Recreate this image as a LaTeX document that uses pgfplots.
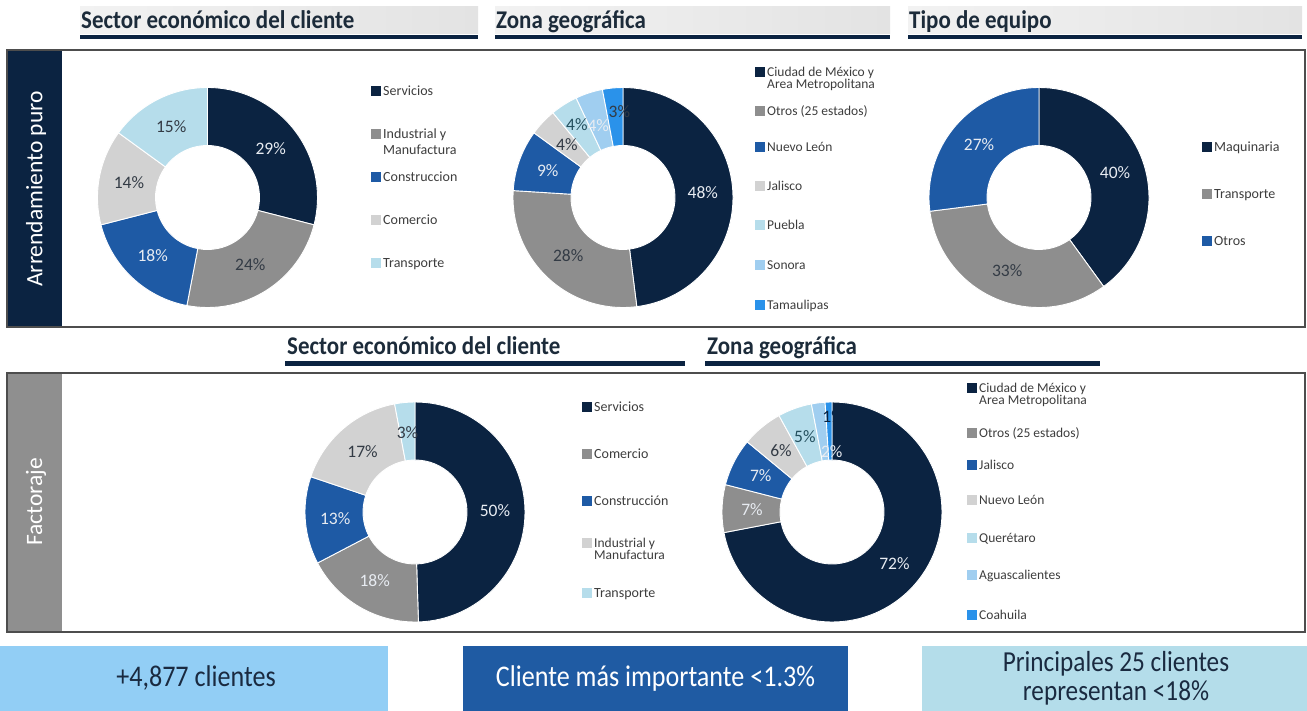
\documentclass[border=0pt]{standalone}
\usepackage{pgfplots}
\pgfplotsset{compat=1.18}
\usepackage{pgfplotstable}
\usepackage{fontspec}
\setmainfont{Carlito}
\newfontfamily\headff{Carlito}[FakeStretch=0.9]
\newfontfamily\boxff{Carlito}[FakeStretch=0.87]

% slice colours cs1..cs7, label colours ct1..ct4
\definecolor{cs1}{HTML}{0B2341}
\definecolor{cs2}{HTML}{8E8E8E}
\definecolor{cs3}{HTML}{1E5AA5}
\definecolor{cs4}{HTML}{D2D2D2}
\definecolor{cs5}{HTML}{B6DDEB}
\definecolor{cs6}{HTML}{A0CEF0}
\definecolor{cs7}{HTML}{2A92EA}
\definecolor{ct1}{HTML}{E8ECF2}
\definecolor{ct2}{HTML}{333B45}
\definecolor{ct3}{HTML}{24505E}
\definecolor{ct4}{HTML}{0B2341}
\colorlet{cNavy}{cs1}
\colorlet{cGray}{cs2}
\colorlet{cBlue}{cs3}
\colorlet{cLGray}{cs4}
\colorlet{cPale}{cs5}
\colorlet{cSky}{cs6}
\colorlet{cBright}{cs7}
\definecolor{cTxt}{HTML}{3D3D3D}
\definecolor{cHead}{HTML}{1C2B3A}
\definecolor{cFrame}{HTML}{4D4D4D}
\definecolor{cBar}{HTML}{8F8F8F}
\definecolor{cBox1}{HTML}{92CEF5}
\definecolor{cBox2}{HTML}{1F5BA3}
\definecolor{cBox3}{HTML}{B4DDEA}
\definecolor{cHL}{HTML}{F2F2F2}
\definecolor{cHR}{HTML}{E3E3E3}
\definecolor{cDark}{HTML}{1A2A40}

\newcommand\headfont{\headff\fontsize{25.5}{28}\selectfont\bfseries}
\newcommand\legfont{\fontsize{14}{16}\selectfont}
\newcommand\leggfont{\fontsize{13.5}{14}\selectfont}
\newcommand\labfont{\fontsize{17.5}{20}\selectfont}
\newcommand\sidefont{\fontsize{23.5}{26}\selectfont}
\newcommand\boxfont{\boxff\fontsize{30}{30}\selectfont}
\newcommand\boxfontb{\boxff\fontsize{29}{29}\selectfont}

\pgfdeclareplotmark{blank}{}

% ---- data: v = percent, c = slice colour no., t = label colour no.,
%      lr = label radius (pt), ao = label angle shift (deg)
\pgfplotstableread{
v  c t lr ao
29 1 1 80 0
24 2 2 80 0
18 3 1 80 0
14 4 2 80 0
15 5 2 80 0
}\tabA
\pgfplotstableread{
v  c t lr ao
48 1 1 80 0
28 2 2 80 0
9  3 1 80 0
4  4 2 77 0
4  5 3 86 0
4  6 1 76 1
3  7 2 86 -3
}\tabB
\pgfplotstableread{
v  c t lr ao
40 1 1 80 0
33 2 2 80 0
27 3 1 80 0
}\tabC
\pgfplotstableread{
v  c t lr ao
50 1 1 80 0
18 2 1 80 0
13 3 1 80 0
17 4 2 80 0
3  5 2 80 0
}\tabD
\pgfplotstableread{
v  c t lr ao
72 1 1 81 0
7  2 1 80 0
7  3 1 80 0
6  4 2 80 0
5  5 3 80 0
2  6 1 60 -7
1  7 4 95 -2.5
}\tabE
\pgfplotstablecreatecol[create col/expr accum={\pgfmathaccuma+\thisrow{v}}{0}]{cum}{\tabA}
\pgfplotstablecreatecol[create col/expr accum={\pgfmathaccuma+\thisrow{v}}{0}]{cum}{\tabB}
\pgfplotstablecreatecol[create col/expr accum={\pgfmathaccuma+\thisrow{v}}{0}]{cum}{\tabC}
\pgfplotstablecreatecol[create col/expr accum={\pgfmathaccuma+\thisrow{v}}{0}]{cum}{\tabD}
\pgfplotstablecreatecol[create col/expr accum={\pgfmathaccuma+\thisrow{v}}{0}]{cum}{\tabE}

\pgfplotsset{
  donut/.style={hide axis, scale only axis, width=220pt, height=220pt,
    xmin=-1, xmax=1, ymin=-1, ymax=1, clip=false, anchor=center},
  ring/.style={scatter, only marks, mark=blank,
    point meta=\thisrow{v},
    visualization depends on={90-#1*(\thisrow{cum}-\thisrow{v}) \as \aS},
    visualization depends on={90-#1*\thisrow{cum} \as \aE},
    visualization depends on={\thisrow{c} \as \sc},
    scatter/@pre marker code/.code={%
      \pgfmathtruncatemacro\ci{\sc}%
      \filldraw[fill=cs\ci, draw=white, line width=0.9pt]
        (\aS:110pt) arc[start angle=\aS, end angle=\aE, radius=110pt]
        -- (\aE:52pt) arc[start angle=\aE, end angle=\aS, radius=52pt] -- cycle;},
    scatter/@post marker code/.code={}},
  ringlab/.style={scatter, only marks, mark=blank,
    point meta=\thisrow{v},
    visualization depends on={90-#1*(\thisrow{cum}-0.5*\thisrow{v})+\thisrow{ao} \as \aM},
    visualization depends on={\thisrow{v} \as \val},
    visualization depends on={\thisrow{lr} \as \lr},
    visualization depends on={\thisrow{t} \as \tc},
    scatter/@pre marker code/.code={%
      \pgfmathtruncatemacro\ti{\tc}%
      \node[text=ct\ti, inner sep=0pt, font=\labfont] at (\aM:\lr pt)
        {\pgfmathprintnumber[fixed,precision=0,assume math mode=true]{\val}\%};},
    scatter/@post marker code/.code={}},
}

\newcommand\leg[5]{% x y colour text font
  \fill[#3] (#1,#2-4.8) rectangle (#1+10,#2+4.8);
  \node[anchor=base west, inner sep=0pt, text=cTxt, font=#5] at (#1+12,#2+4.8) {#4};}
\newcommand\legtwo[7]{% x y colour line1 line2 gap font
  \fill[#3] (#1,#2-4.8) rectangle (#1+10,#2+4.8);
  \node[anchor=base west, inner sep=0pt, text=cTxt, font=#7] at (#1+12,#2+4.8) {#4};
  \node[anchor=base west, inner sep=0pt, text=cTxt, font=#7] at (#1+12,#2+4.8+#6) {#5};}

\begin{document}
\begin{tikzpicture}
\begin{scope}[x=1pt,y=-1pt]
  \path[use as bounding box] (0,0) rectangle (1307,711);
  % top headers
  \foreach \a/\b/\txt in {80/478/{Sector económico del cliente},495/890/{Zona geográfica},908/1302/{Tipo de equipo}}{
    \shade[left color=cHL, right color=cHR] (\a,7) rectangle (\b,34);
    \fill[cNavy] (\a,35) rectangle (\b,39.5);
    \node[anchor=base west, inner sep=0pt, text=cHead, font=\headfont] at (\a+1,28.5) {\txt};
  }
  % top panel
  \fill[cNavy] (7,50) rectangle (62,327);
  \draw[cFrame, line width=1.5pt] (7,50) rectangle (1305,327);
  \node[rotate=90, text=white, font=\sidefont, inner sep=0pt] at (36,189) {Arrendamiento puro};
  % bottom headers
  \foreach \a/\b/\txt in {285/685/{Sector económico del cliente},705/1100/{Zona geográfica}}{
    \fill[cNavy] (\a,361.5) rectangle (\b,366);
    \node[anchor=base west, inner sep=0pt, text=cHead, font=\headfont] at (\a+2,355) {\txt};
  }
  % bottom panel
  \fill[cBar] (7,373) rectangle (62,632);
  \draw[cFrame, line width=1.5pt] (7,373) rectangle (1305,632);
  \node[rotate=90, text=white, font=\sidefont, inner sep=0pt] at (36,502) {Factoraje};
  % bottom boxes
  \fill[cBox1] (0,646) rectangle (388,711);
  \node[text=cDark, font=\boxfont] at (196,678) {+4,877 clientes};
  \fill[cBox2] (463,646) rectangle (848,711);
  \node[text=white, font=\boxfont] at (655.5,678) {Cliente más importante <1.3\%};
  \fill[cBox3] (922,646) rectangle (1307,711);
  \node[anchor=base, inner sep=0pt, text=cDark, font=\boxfontb] at (1116,671) {Principales 25 clientes};
  \node[anchor=base, inner sep=0pt, text=cDark, font=\boxfontb] at (1116,700) {representan <18\%};
  % legends
  \leg{371}{91}{cNavy}{Servicios}{\legfont}
  \legtwo{371}{134}{cGray}{Industrial y}{Manufactura}{16}{\legfont}
  \leg{371}{177}{cBlue}{Construccion}{\legfont}
  \leg{371}{220}{cLGray}{Comercio}{\legfont}
  \leg{371}{263}{cPale}{Transporte}{\legfont}
  %
  \legtwo{755}{72}{cNavy}{Ciudad de México y}{Area Metropolitana}{12}{\leggfont}
  \leg{755}{111}{cGray}{Otros (25 estados)}{\leggfont}
  \leg{755}{147}{cBlue}{Nuevo León}{\leggfont}
  \leg{755}{186}{cLGray}{Jalisco}{\leggfont}
  \leg{755}{225}{cPale}{Puebla}{\leggfont}
  \leg{755}{265}{cSky}{Sonora}{\leggfont}
  \leg{755}{305}{cBright}{Tamaulipas}{\leggfont}
  %
  \leg{1202}{147}{cNavy}{Maquinaria}{\legfont}
  \leg{1202}{194}{cGray}{Transporte}{\legfont}
  \leg{1202}{241}{cBlue}{Otros}{\legfont}
  %
  \leg{582}{407}{cNavy}{Servicios}{\legfont}
  \leg{582}{454}{cGray}{Comercio}{\legfont}
  \leg{582}{501}{cBlue}{Construcción}{\legfont}
  \legtwo{582}{543}{cLGray}{Industrial y}{Manufactura}{12}{\leggfont}
  \leg{582}{593}{cPale}{Transporte}{\legfont}
  %
  \legtwo{967}{388}{cNavy}{Ciudad de México y}{Area Metropolitana}{12}{\leggfont}
  \leg{967}{433}{cGray}{Otros (25 estados)}{\leggfont}
  \leg{967}{465}{cBlue}{Jalisco}{\leggfont}
  \leg{967}{500}{cLGray}{Nuevo León}{\leggfont}
  \leg{967}{538}{cPale}{Querétaro}{\leggfont}
  \leg{967}{575}{cSky}{Aguascalientes}{\leggfont}
  \leg{967}{615}{cBright}{Coahuila}{\leggfont}
\end{scope}

\begin{axis}[donut, at={(207.5pt,-197.5pt)}]
  \addplot[ring=3.6] table[x expr=0, y expr=0] {\tabA};
  \addplot[ringlab=3.6] table[x expr=0, y expr=0] {\tabA};
\end{axis}
\begin{axis}[donut, at={(623pt,-197.5pt)}]
  \addplot[ring=3.6] table[x expr=0, y expr=0] {\tabB};
  \addplot[ringlab=3.6] table[x expr=0, y expr=0] {\tabB};
\end{axis}
\begin{axis}[donut, at={(1039pt,-197.5pt)}]
  \addplot[ring=3.6] table[x expr=0, y expr=0] {\tabC};
  \addplot[ringlab=3.6] table[x expr=0, y expr=0] {\tabC};
\end{axis}
\begin{axis}[donut, at={(415pt,-512pt)}]
  \addplot[ring=360/101] table[x expr=0, y expr=0] {\tabD};
  \addplot[ringlab=360/101] table[x expr=0, y expr=0] {\tabD};
\end{axis}
\begin{axis}[donut, at={(832pt,-512pt)}]
  \addplot[ring=3.6] table[x expr=0, y expr=0] {\tabE};
  \addplot[ringlab=3.6] table[x expr=0, y expr=0] {\tabE};
\end{axis}
\end{tikzpicture}
\end{document}
